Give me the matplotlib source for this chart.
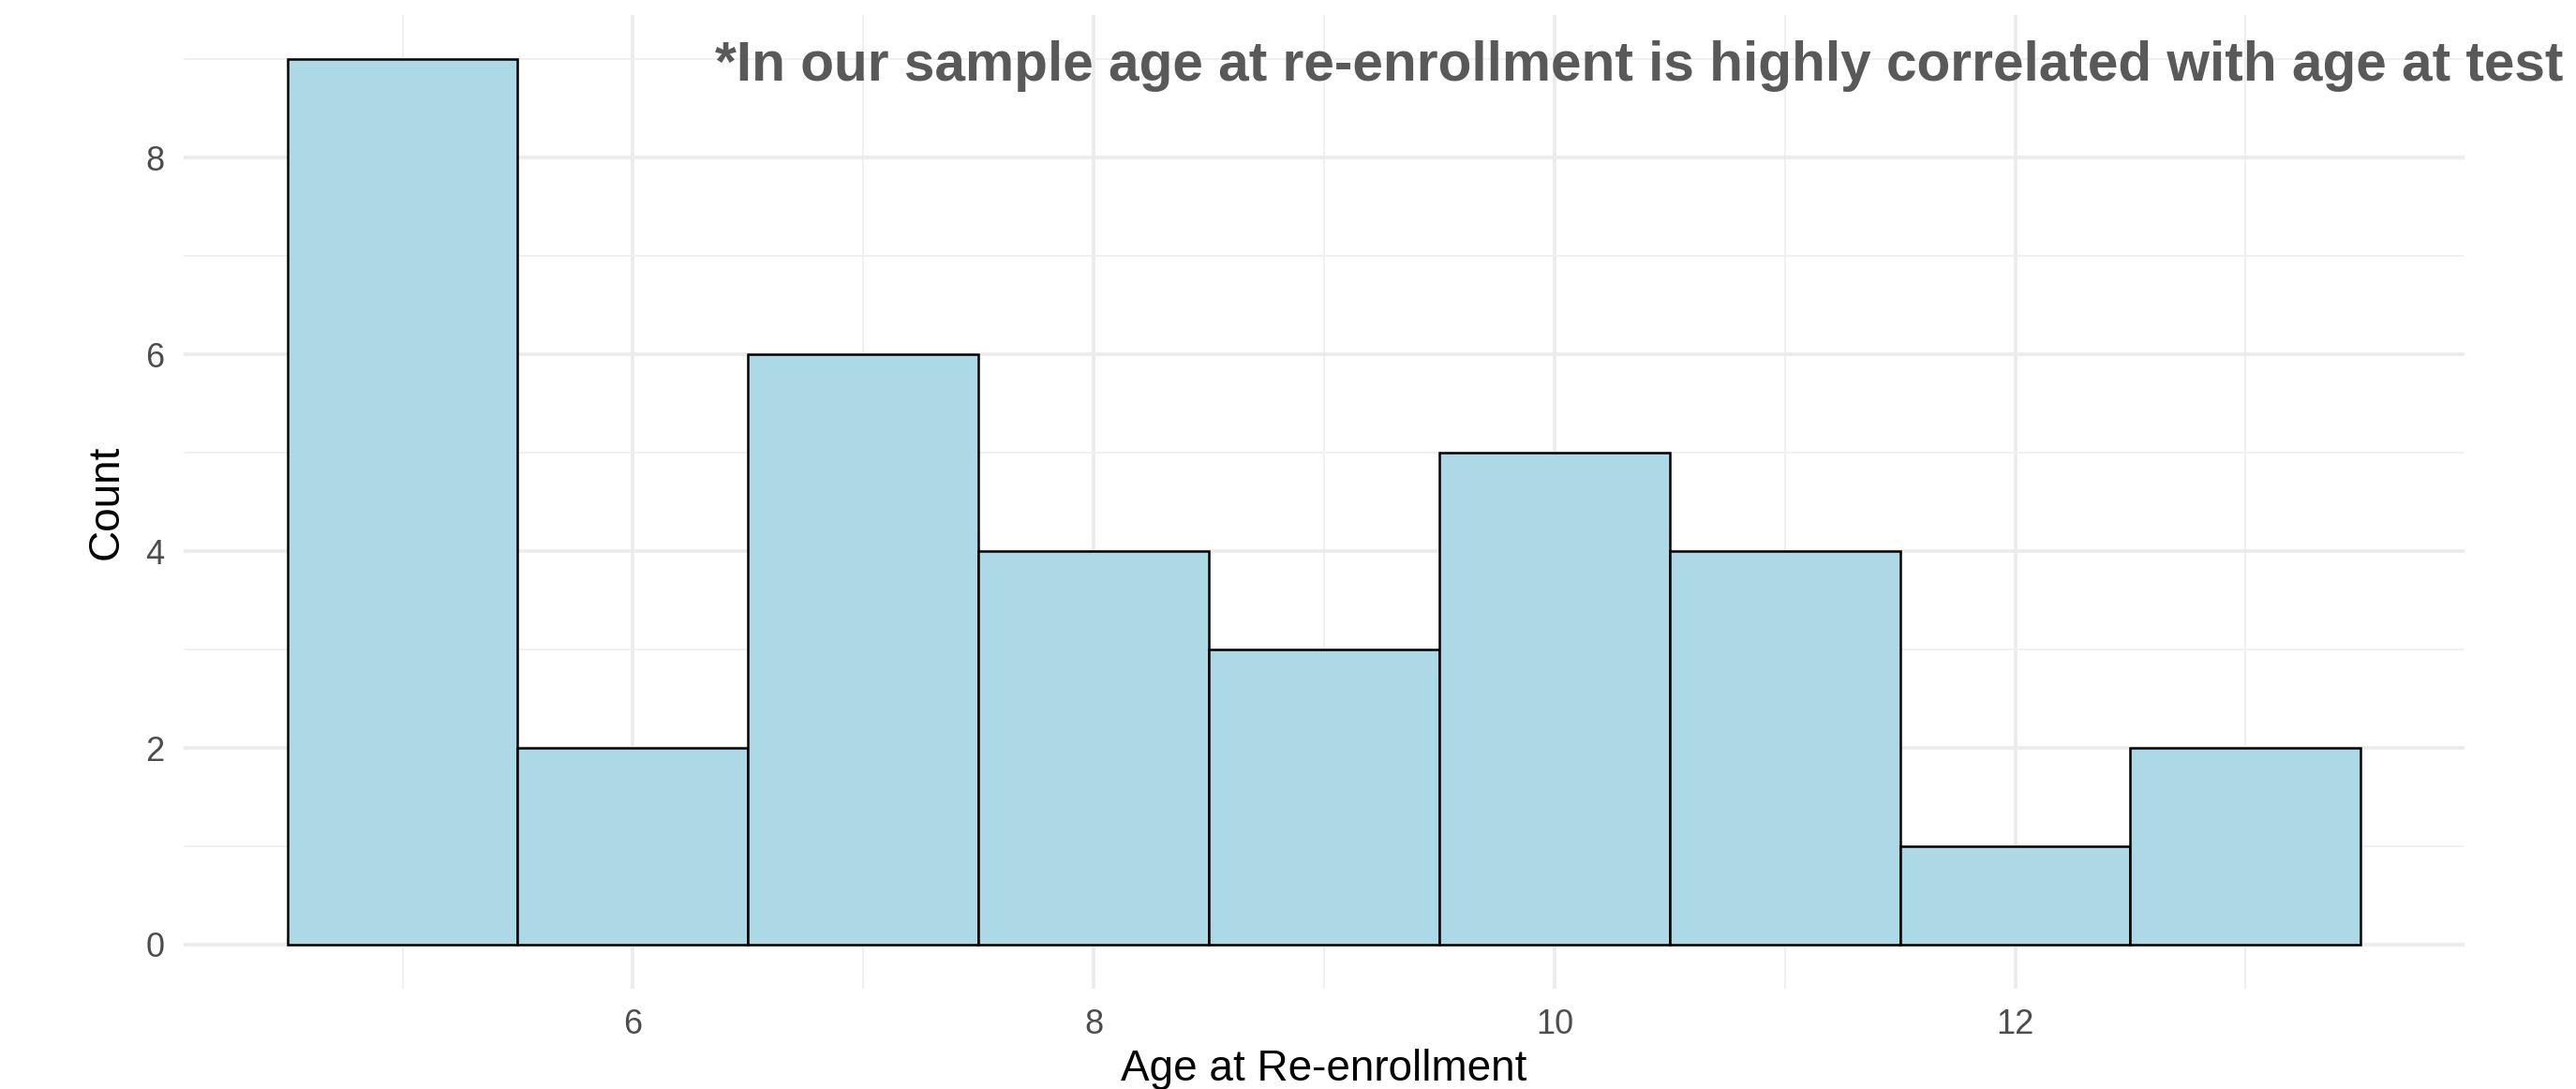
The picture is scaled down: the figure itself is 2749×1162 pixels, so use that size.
import matplotlib
matplotlib.use("Agg")
import matplotlib.pyplot as plt

plt.rcParams['font.family'] = ['Liberation Sans', 'DejaVu Sans']

# histogram bins (age at re-enrollment, binwidth 1) and counts
ages = [5, 6, 7, 8, 9, 10, 11, 12, 13]
counts = [9, 2, 6, 4, 3, 5, 4, 1, 2]
x_ticks = [6, 8, 10, 12]
y_ticks = [0, 2, 4, 6, 8]
note = "*In our sample age at re-enrollment is highly correlated with age at test"

DPI = 200
fig = plt.figure(figsize=(2749 / DPI, 1162 / DPI), dpi=DPI)
ax = fig.add_axes([0.0713, 0.092, 0.9567 - 0.0713, 0.986 - 0.092])

ax.bar(ages, counts, width=1.0, color="#ADD8E6", edgecolor="black",
       linewidth=0.9, zorder=3)

# ggplot-ish limits with 5% expansion
lo, hi = ages[0] - 0.5, ages[-1] + 0.5
pad = (hi - lo) * 0.05
ax.set_xlim(lo - pad, hi + pad)
ypad = max(counts) * 0.05
ax.set_ylim(-ypad, max(counts) + ypad)

ax.set_xticks(x_ticks)
ax.set_yticks(y_ticks)
ax.set_xticks([a for a in ages if a not in x_ticks], minor=True)
ax.set_yticks([c for c in range(1, max(counts) + 1, 2)], minor=True)

ax.grid(which="major", color="#EBEBEB", linewidth=1.3, zorder=0)
ax.grid(which="minor", color="#F0F0F0", linewidth=0.7, zorder=0)
ax.set_axisbelow(True)
for s in ax.spines.values():
    s.set_visible(False)

ax.tick_params(which="both", length=0)
ax.tick_params(axis="x", pad=7.5, labelsize=13, labelcolor="#4D4D4D")
ax.tick_params(axis="y", pad=7.5, labelsize=13, labelcolor="#4D4D4D")

ax.set_xlabel("Age at Re-enrollment", fontsize=16.5, labelpad=3)
ax.set_ylabel("Count", fontsize=16.5, labelpad=7)

# the note: fit its width to the reference (~1972 px, right edge at ~2735 px)
t = fig.text(2735 / 2749, 1 - 71 / 1162, note, ha="right", va="center",
             fontsize=20, fontweight="bold", color="#595959")
fig.canvas.draw()
w = t.get_window_extent(renderer=fig.canvas.get_renderer()).width
t.set_fontsize(20 * 1972 / w)

fig.savefig("out.png", dpi=DPI, facecolor="white")
